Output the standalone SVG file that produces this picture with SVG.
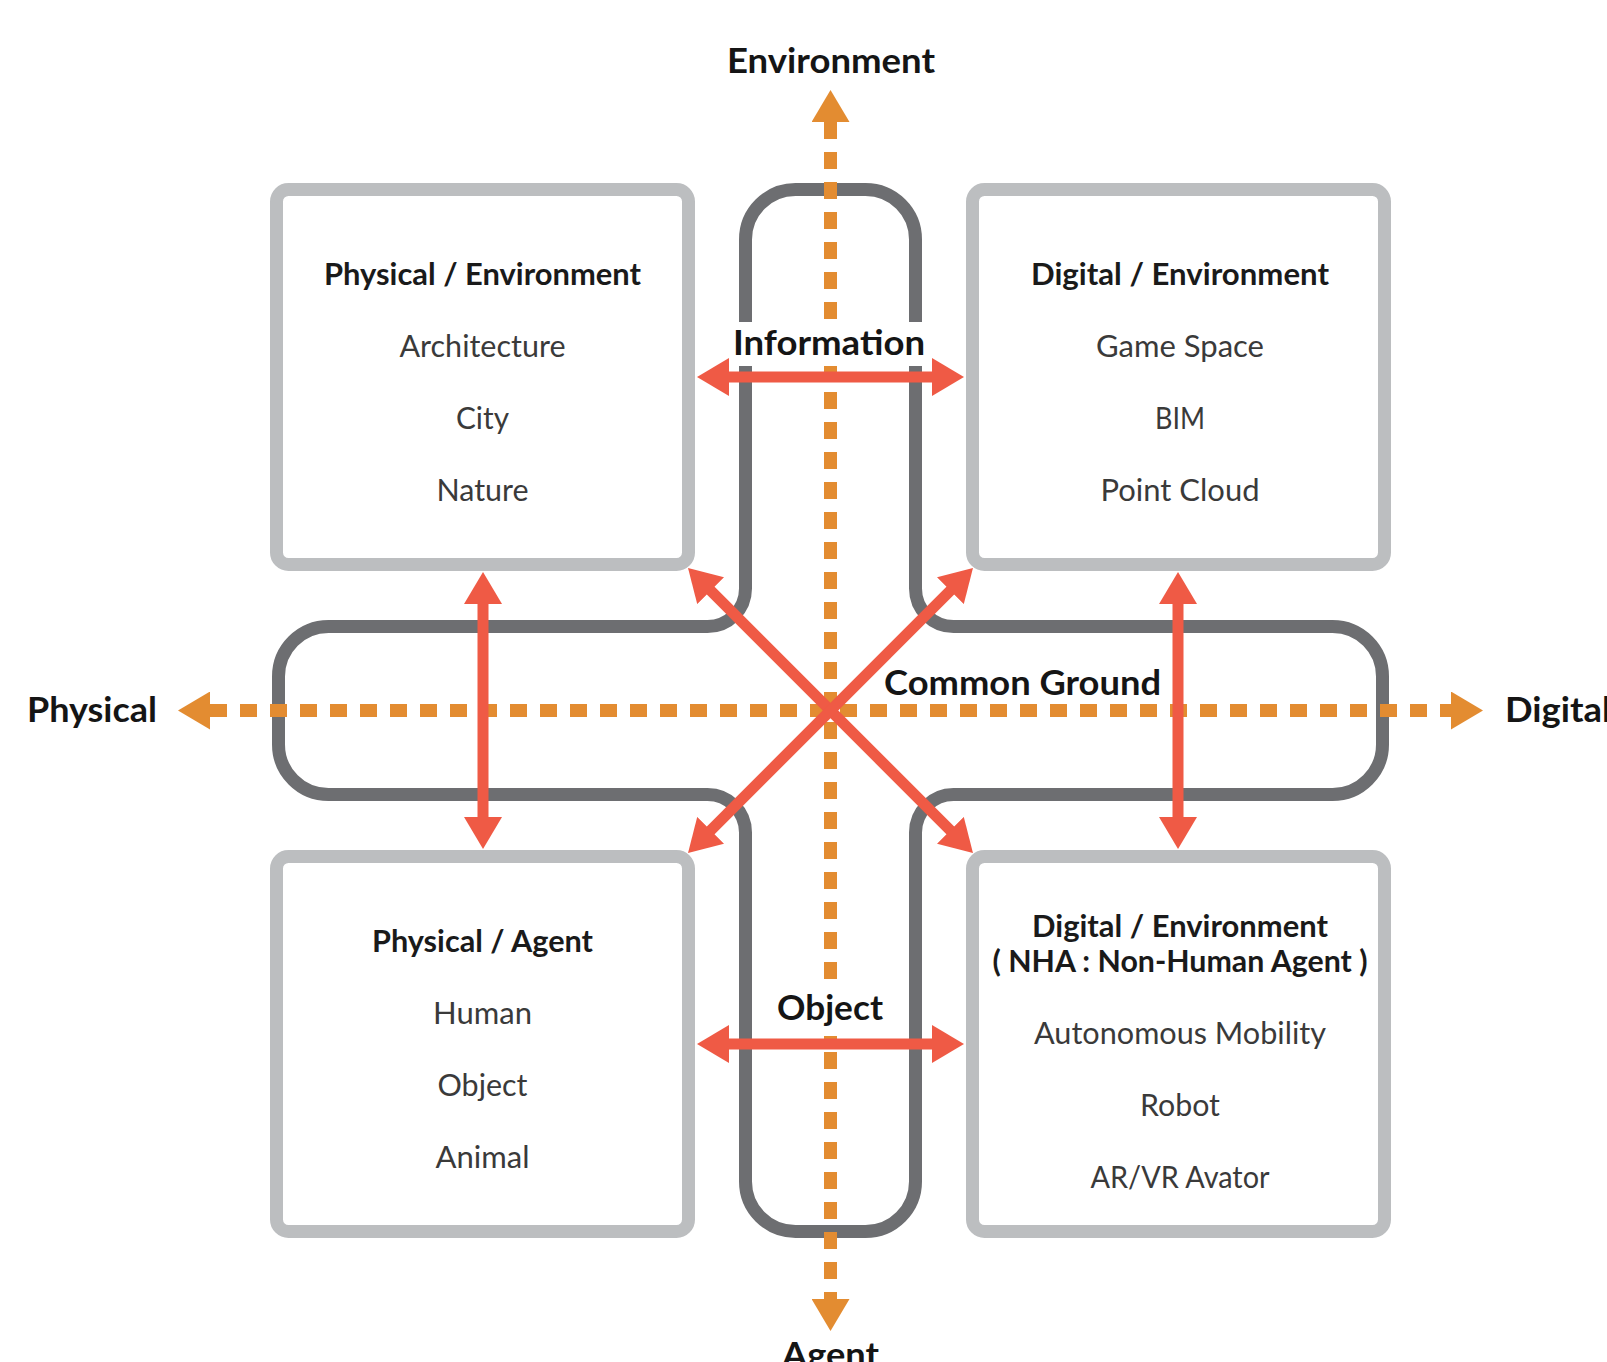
<svg xmlns="http://www.w3.org/2000/svg" width="1607" height="1362" viewBox="0 0 1607 1362">
  <style>
    .box { fill: #ffffff; stroke: #bcbec0; stroke-width: 13; }
    .ground { fill: none; stroke: #6d6e71; stroke-width: 13; stroke-linejoin: round; }
    .axis { fill: none; stroke: #e38c31; stroke-width: 13; stroke-dasharray: 17 13; }
    .link { fill: none; stroke: #ef5a45; stroke-width: 11; }
    .label { font-family: "Lato", "Open Sans", "Liberation Sans", sans-serif; font-weight: 700; font-size: 35px; fill: #151515; }
    .title { font-family: "Lato", "Open Sans", "Liberation Sans", sans-serif; font-weight: 700; font-size: 30px; fill: #1a1a1a; text-anchor: middle; }
    .item { font-family: "Lato", "Open Sans", "Liberation Sans", sans-serif; font-weight: 400; font-size: 30px; fill: #3a3a3a; text-anchor: middle; }
    .mid { text-anchor: middle; }
  </style>
  <defs>
    <marker id="red-head" markerUnits="userSpaceOnUse" viewBox="0 -19 32 38" refX="7" refY="0" markerWidth="32" markerHeight="38" orient="auto-start-reverse">
      <path d="M0,-19 L32,0 L0,19 Z" fill="#ef5a45"/>
    </marker>
    <marker id="orange-head" markerUnits="userSpaceOnUse" viewBox="0 -19 32 38" refX="0" refY="0" markerWidth="32" markerHeight="38" orient="auto-start-reverse">
      <path d="M0,-19 L32,0 L0,19 Z" fill="#e38c31"/>
    </marker>
  </defs>

  <rect width="1607" height="1362" fill="#ffffff"/>

  <!-- quadrant boxes -->
  <g id="physical-environment">
    <rect class="box" x="276.5" y="189.5" width="412" height="375" rx="12"/>
    <text class="title" x="482.5" y="285" textLength="317" lengthAdjust="spacingAndGlyphs">Physical / Environment</text>
    <text class="item" x="482.5" y="357" textLength="166" lengthAdjust="spacingAndGlyphs">Architecture</text>
    <text class="item" x="482.5" y="429" textLength="53" lengthAdjust="spacingAndGlyphs">City</text>
    <text class="item" x="482.5" y="501" textLength="92" lengthAdjust="spacingAndGlyphs">Nature</text>
  </g>
  <g id="digital-environment">
    <rect class="box" x="972.5" y="189.5" width="412" height="375" rx="12"/>
    <text class="title" x="1180" y="285" textLength="298" lengthAdjust="spacingAndGlyphs">Digital / Environment</text>
    <text class="item" x="1180" y="357" textLength="168" lengthAdjust="spacingAndGlyphs">Game Space</text>
    <text class="item" x="1180" y="429" textLength="50" lengthAdjust="spacingAndGlyphs">BIM</text>
    <text class="item" x="1180" y="501" textLength="159" lengthAdjust="spacingAndGlyphs">Point Cloud</text>
  </g>
  <g id="physical-agent">
    <rect class="box" x="276.5" y="856.5" width="412" height="375" rx="12"/>
    <text class="title" x="482.5" y="952" textLength="221" lengthAdjust="spacingAndGlyphs">Physical / Agent</text>
    <text class="item" x="482.5" y="1024" textLength="99" lengthAdjust="spacingAndGlyphs">Human</text>
    <text class="item" x="482.5" y="1096" textLength="90" lengthAdjust="spacingAndGlyphs">Object</text>
    <text class="item" x="482.5" y="1168" textLength="94" lengthAdjust="spacingAndGlyphs">Animal</text>
  </g>
  <g id="digital-nha">
    <rect class="box" x="972.5" y="856.5" width="412" height="375" rx="12"/>
    <text class="title" x="1180" y="937" textLength="296" lengthAdjust="spacingAndGlyphs">Digital / Environment</text>
    <text class="title" x="1180" y="972" textLength="375" lengthAdjust="spacingAndGlyphs">( NHA : Non-Human Agent )</text>
    <text class="item" x="1180" y="1044" textLength="292" lengthAdjust="spacingAndGlyphs">Autonomous Mobility</text>
    <text class="item" x="1180" y="1116" textLength="80" lengthAdjust="spacingAndGlyphs">Robot</text>
    <text class="item" x="1180" y="1188" textLength="179" lengthAdjust="spacingAndGlyphs">AR/VR Avator</text>
  </g>

  <!-- cross-shaped common ground outline -->
  <g id="common-ground">
    <path class="ground" d="M745.5,239.5 A50,50 0 0 1 795.5,189.5 H865.5 A50,50 0 0 1 915.5,239.5 V588.5 A38,38 0 0 0 953.5,626.5 H1332.5 A50,50 0 0 1 1382.5,676.5 V744.5 A50,50 0 0 1 1332.5,794.5 H953.5 A38,38 0 0 0 915.5,832.5 V1181.5 A50,50 0 0 1 865.5,1231.5 H795.5 A50,50 0 0 1 745.5,1181.5 V832.5 A38,38 0 0 0 707.5,794.5 H328.5 A50,50 0 0 1 278.5,744.5 V676.5 A50,50 0 0 1 328.5,626.5 H707.5 A38,38 0 0 0 745.5,588.5 Z"/>
  </g>

  <!-- orange axes -->
  <g id="axes">
    <line class="axis" x1="210" y1="710.5" x2="1451" y2="710.5" marker-start="url(#orange-head)" marker-end="url(#orange-head)"/>
    <line class="axis" x1="830.5" y1="122" x2="830.5" y2="1299" marker-start="url(#orange-head)" marker-end="url(#orange-head)"/>
  </g>

  <!-- label backdrops on the central arm -->
  <rect x="733" y="322" width="195" height="44" fill="#ffffff"/>
  <rect x="775" y="988" width="112" height="48" fill="#ffffff"/>

  <!-- axis and relation labels -->
  <g id="labels">
    <text class="label mid" x="831" y="73" textLength="208" lengthAdjust="spacingAndGlyphs">Environment</text>
    <text class="label mid" x="830.5" y="1367" textLength="97" lengthAdjust="spacingAndGlyphs">Agent</text>
    <text class="label" x="27" y="722" textLength="130" lengthAdjust="spacingAndGlyphs">Physical</text>
    <text class="label" x="1505" y="722" textLength="106" lengthAdjust="spacingAndGlyphs">Digital</text>
    <text class="label mid" x="829" y="355" textLength="192" lengthAdjust="spacingAndGlyphs">Information</text>
    <text class="label mid" x="830" y="1020" textLength="106" lengthAdjust="spacingAndGlyphs">Object</text>
    <text class="label" x="884" y="695" textLength="277" lengthAdjust="spacingAndGlyphs">Common Ground</text>
  </g>

  <!-- red relation arrows -->
  <g id="connectors">
    <line class="link" x1="722" y1="377" x2="939" y2="377" marker-start="url(#red-head)" marker-end="url(#red-head)"/>
    <line class="link" x1="722" y1="1044" x2="939" y2="1044" marker-start="url(#red-head)" marker-end="url(#red-head)"/>
    <line class="link" x1="483" y1="597" x2="483" y2="824" marker-start="url(#red-head)" marker-end="url(#red-head)"/>
    <line class="link" x1="1178" y1="597" x2="1178" y2="824" marker-start="url(#red-head)" marker-end="url(#red-head)"/>
    <line class="link" x1="705.7" y1="585.7" x2="955.3" y2="835.3" marker-start="url(#red-head)" marker-end="url(#red-head)"/>
    <line class="link" x1="955.3" y1="585.7" x2="705.7" y2="835.3" marker-start="url(#red-head)" marker-end="url(#red-head)"/>
  </g>
</svg>
